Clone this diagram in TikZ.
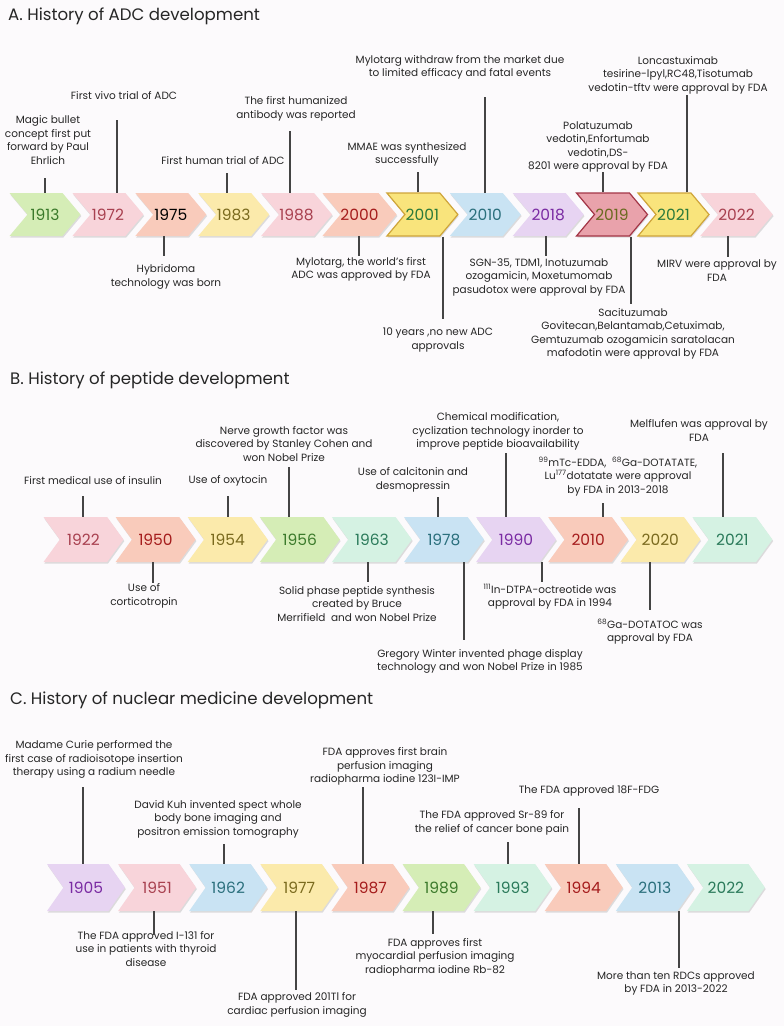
\documentclass[tikz,border=0pt]{standalone}
\usepackage{fontspec}
\setmainfont{Poppins}
\usetikzlibrary{shapes.symbols,shadows}
\definecolor{bg}{HTML}{FCFAFC}
\definecolor{txt}{HTML}{262626}
\definecolor{lnc}{HTML}{444444}
\definecolor{fGreen}{HTML}{D5EDB6}\definecolor{tGreen}{HTML}{3B7A2B}
\definecolor{fPink}{HTML}{F8D4DA}\definecolor{tPink}{HTML}{A8404F}
\definecolor{fSalmon}{HTML}{F9CBBB}\definecolor{tRed}{HTML}{A51C1C}
\definecolor{fYellow}{HTML}{FBEAAB}\definecolor{tOlive}{HTML}{7A6A1E}
\definecolor{fYellowHL}{HTML}{F9E47C}\definecolor{oYellow}{HTML}{CFA53A}\definecolor{tGreenHL}{HTML}{2B7A3A}
\definecolor{fBlue}{HTML}{C9E3F3}\definecolor{tTeal}{HTML}{2A6F7C}
\definecolor{fLav}{HTML}{E7D4F2}\definecolor{tPurple}{HTML}{7A2BA3}
\definecolor{fRose}{HTML}{E9A2AB}\definecolor{oRose}{HTML}{A33546}\definecolor{tRoseTxt}{HTML}{6A6A20}
\definecolor{fMint}{HTML}{D5F2E3}\definecolor{tMint}{HTML}{2A7A5A}
\tikzset{
 chev/.style={shape=signal, signal from=west, signal to=east, inner sep=0pt,
   font=\fontsize{15.5}{15.5}\selectfont,
   drop shadow={shadow xshift=0.8pt, shadow yshift=-1.6pt, opacity=0.25}},
 chevA/.style={chev, minimum width=71pt, minimum height=43pt, signal pointer angle=100},
 chevB/.style={chev, minimum width=80pt, minimum height=45pt, signal pointer angle=108},
 chevC/.style={chev, minimum width=78pt, minimum height=47pt, signal pointer angle=110},
 lbl/.style={align=center, font=\fontsize{10.5}{13.5}\selectfont, inner sep=0pt, text=txt},
 ttl/.style={anchor=west, font=\fontsize{16.6}{16.6}\selectfont, inner sep=0pt, text=txt},
 ln/.style={draw=lnc, line width=1.1pt},
 hlY/.style={draw=oYellow, line width=1.2pt},
 hlR/.style={draw=oRose, line width=1.2pt}
}
\begin{document}
\begin{tikzpicture}[x=1pt,y=-1pt]
\fill[bg] (0,0) rectangle (784,1026);
\useasboundingbox (0,0) rectangle (784,1026);

% ---------------- A ----------------
\node[ttl] (tA) at (8,16) {A. History of ADC development};
\node[chevA, fill=fGreen, text=tGreen] (a1913) at (45,214.5) {1913};
\node[chevA, fill=fPink, text=tPink] (a1972) at (107.9,214.5) {1972};
\node[chevA, fill=fSalmon, text=black] (a1975) at (170.8,214.5) {1975};
\node[chevA, fill=fYellow, text=tOlive] (a1983) at (233.7,214.5) {1983};
\node[chevA, fill=fPink, text=tPink] (a1988) at (296.6,214.5) {1988};
\node[chevA, fill=fSalmon, text=tRed] (a2000) at (359.5,214.5) {2000};
\node[chevA, hlY, fill=fYellowHL, text=tGreenHL] (a2001) at (422.4,214.5) {2001};
\node[chevA, fill=fBlue, text=tTeal] (a2010) at (485.3,214.5) {2010};
\node[chevA, fill=fLav, text=tPurple] (a2018) at (548.2,214.5) {2018};
\node[chevA, hlR, fill=fRose, text=tRoseTxt] (a2019) at (612,214.5) {2019};
\node[chevA, hlY, fill=fYellowHL, text=tGreenHL] (a2021) at (673.5,214.5) {2021};
\node[chevA, fill=fPink, text=tPink] (a2022) at (736.5,214.5) {2022};

\node[lbl] (la1913) at (48,140) {Magic bullet\\concept first put\\forward by Paul\\Ehrlich};
\node[lbl] (la1972) at (124,96) {First vivo trial of ADC};
\node[lbl] (la1983) at (223,161) {First human trial of ADC};
\node[lbl] (la1988) at (296,109) {The first humanized\\antibody was reported};
\node[lbl] (la2001) at (407,154.5) {MMAE was synthesized\\successfully};
\node[lbl] (la2010) at (460,67.5) {Mylotarg withdraw from the market due\\to limited efficacy and fatal events};
\node[lbl] (la2019) at (598,147) {Polatuzumab\\vedotin,Enfortumab\\vedotin,DS-\\8201 were approval by FDA};
\node[lbl] (la2021) at (678,75) {Loncastuximab\\tesirine-lpyl,RC48,Tisotumab\\vedotin-tftv were approval by FDA};

\draw[ln] (a1913.north) -- ++(0,-15);
\draw[ln] ([xshift=9.1pt]a1972.north) -- ++(0,-73);
\draw[ln] ([xshift=-6.7pt]a1983.north) -- ++(0,-20);
\draw[ln] ([xshift=-6.6pt]a1988.north) -- ++(0,-62);
\draw[ln] ([xshift=-4.4pt]a2001.north) -- ++(0,-20);
\draw[ln] ([xshift=-0.3pt]a2010.north) -- ++(0,-96);
\draw[ln] ([xshift=-9pt]a2019.north) -- ++(0,-20);
\draw[ln] ([xshift=13.5pt]a2021.north) -- ++(0,-97);

\node[lbl] (lb1975) at (166,277) {Hybridoma\\technology was born};
\node[lbl] (lb2000) at (361,269.5) {Mylotarg, the world's first\\ADC was approved by FDA};
\node[lbl] (lb2001) at (438,340) {10 years ,no new ADC\\approvals};
\node[lbl] (lb2018) at (539,277) {SGN-35, TDM1, Inotuzumab\\ozogamicin, Moxetumomab\\pasudotox were approval by FDA};
\node[lbl] (lb2019) at (633,334) {Sacituzumab\\Govitecan,Belantamab,Cetuximab,\\Gemtuzumab ozogamicin saratolacan\\mafodotin were approval by FDA};
\node[lbl] (lb2022) at (717,270.5) {MIRV were approval by\\FDA};

\draw[ln] ([xshift=-6.8pt]a1975.south) -- ++(0,20);
\draw[ln] ([xshift=-0.5pt]a2000.south) -- ++(0,20);
\draw[ln] ([xshift=20.6pt]a2001.south) -- ++(0,82);
\draw[ln] ([xshift=-2.2pt]a2018.south) -- ++(0,20);
\draw[ln] ([xshift=19pt]a2019.south) -- ++(0,67);
\draw[ln] ([xshift=-8.5pt]a2022.south) -- ++(0,21);

% ---------------- B ----------------
\node[ttl] (tB) at (10,380) {B. History of peptide development};
\node[chevB, fill=fPink, text=tPink] (b1922) at (83.5,539.5) {1922};
\node[chevB, fill=fSalmon, text=tRed] (b1950) at (155.6,539.5) {1950};
\node[chevB, fill=fYellow, text=tOlive] (b1954) at (227.7,539.5) {1954};
\node[chevB, fill=fGreen, text=tGreen] (b1956) at (299.8,539.5) {1956};
\node[chevB, fill=fMint, text=tMint] (b1963) at (371.9,539.5) {1963};
\node[chevB, fill=fBlue, text=tTeal] (b1978) at (444,539.5) {1978};
\node[chevB, fill=fLav, text=tPurple] (b1990) at (516.1,539.5) {1990};
\node[chevB, fill=fSalmon, text=tRed] (b2010) at (588.2,539.5) {2010};
\node[chevB, fill=fYellow, text=tOlive] (b2020) at (660.3,539.5) {2020};
\node[chevB, fill=fMint, text=tMint] (b2021) at (732.4,539.5) {2021};

\node[lbl] (lc1922) at (93,481) {First medical use of insulin};
\node[lbl] (lc1954) at (228,481) {Use of oxytocin};
\node[lbl] (lc1956) at (284,444) {Nerve growth factor was\\discovered by Stanley Cohen and\\won Nobel Prize};
\node[lbl] (lc1978) at (413,480) {Use of calcitonin and\\desmopressin};
\node[lbl] (lc1990) at (498,431.7) {Chemical modification,\\cyclization technology inorder to\\improve peptide bioavailability};
\node[lbl] (lc2010) at (618,476.3) {\textsuperscript{99}mTc-EDDA,\ \ \textsuperscript{68}Ga-DOTATATE,\\Lu\textsuperscript{177}dotatate were approval\\by FDA in 2013-2018};
\node[lbl] (lc2021) at (699,430.5) {Melflufen was approval by\\FDA};

\draw[ln] ([xshift=-0.5pt]b1922.north) -- ++(0,-21);
\draw[ln] ([xshift=0.3pt]b1954.north) -- ++(0,-21);
\draw[ln] ([xshift=-10.8pt]b1956.north) -- ++(0,-50);
\draw[ln] ([xshift=-6pt]b1978.north) -- ++(0,-20);
\draw[ln] ([xshift=-10.1pt]b1990.north) -- ++(0,-64);
\draw[ln] ([xshift=14.8pt]b2010.north) -- ++(0,-14);
\draw[ln] ([xshift=-9.4pt]b2021.north) -- ++(0,-64);

\node[lbl] (ld1950) at (144,596) {Use of\\corticotropin};
\node[lbl] (ld1963) at (357,603.7) {Solid phase peptide synthesis\\created by Bruce\\Merrifield\ \ and won Nobel Prize};
\node[lbl] (ld1978) at (480,661.5) {Gregory Winter invented phage display\\technology and won Nobel Prize in 1985};
\node[lbl] (ld1990) at (550,596.5) {\textsuperscript{111}In-DTPA-octreotide was\\approval by FDA in 1994};
\node[lbl] (ld2020) at (650,631.5) {\textsuperscript{68}Ga-DOTATOC was\\approval by FDA};

\draw[ln] ([xshift=-2.6pt]b1950.south) -- ++(0,21);
\draw[ln] ([xshift=-3.9pt]b1963.south) -- ++(0,20);
\draw[ln] ([xshift=20pt]b1978.south) -- ++(0,78);
\draw[ln] ([xshift=25.9pt]b1990.south) -- ++(0,20);
\draw[ln] ([xshift=-10.3pt]b2020.south) -- ++(0,48);

% ---------------- C ----------------
\node[ttl] (tC) at (10,700) {C. History of nuclear medicine development};
\node[chevC, fill=fLav, text=tPurple] (c1905) at (86,887.5) {1905};
\node[chevC, fill=fPink, text=tPink] (c1951) at (157.1,887.5) {1951};
\node[chevC, fill=fBlue, text=tTeal] (c1962) at (228.2,887.5) {1962};
\node[chevC, fill=fYellow, text=tOlive] (c1977) at (299.3,887.5) {1977};
\node[chevC, fill=fSalmon, text=tRed] (c1987) at (370.4,887.5) {1987};
\node[chevC, fill=fGreen, text=tGreen] (c1989) at (441.5,887.5) {1989};
\node[chevC, fill=fMint, text=tMint] (c1993) at (512.6,887.5) {1993};
\node[chevC, fill=fSalmon, text=tRed] (c1994) at (583.7,887.5) {1994};
\node[chevC, fill=fBlue, text=tTeal] (c2013) at (654.8,887.5) {2013};
\node[chevC, fill=fMint, text=tMint] (c2022) at (725.9,887.5) {2022};

\node[lbl] (le1905) at (94,759.7) {Madame Curie performed the\\first case of radioisotope insertion\\therapy using a radium needle};
\node[lbl] (le1962) at (218,819) {David Kuh invented spect whole\\body bone imaging and\\positron emission tomography};
\node[lbl] (le1987) at (385,766.7) {FDA approves first brain\\perfusion imaging\\radiopharma iodine 123I-IMP};
\node[lbl] (le1993) at (492,823) {The FDA approved Sr-89 for\\the relief of cancer bone pain};
\node[lbl] (le1994) at (589,791) {The FDA approved 18F-FDG};

\draw[ln] ([xshift=-3pt]c1905.north) -- ++(0,-77);
\draw[ln] ([xshift=-4.2pt]c1962.north) -- ++(0,-20);
\draw[ln] ([xshift=-7.4pt]c1987.north) -- ++(0,-77);
\draw[ln] ([xshift=-4.6pt]c1993.north) -- ++(0,-22);
\draw[ln] ([xshift=-4.7pt]c1994.north) -- ++(0,-56);

\node[lbl] (lf1951) at (146,949) {The FDA approved I-131 for\\use in patients with thyroid\\disease};
\node[lbl] (lf1977) at (297,1005) {FDA approved 201Tl for\\cardiac perfusion imaging};
\node[lbl] (lf1989) at (435,957) {FDA approves first\\myocardial perfusion imaging\\radiopharma iodine Rb-82};
\node[lbl] (lf2013) at (676,983.5) {More than ten RDCs approved\\by FDA in 2013-2022};

\draw[ln] ([xshift=-3.1pt]c1951.south) -- ++(0,24);
\draw[ln] ([xshift=-3.3pt]c1977.south) -- ++(0,79);
\draw[ln] ([xshift=-8.5pt]c1989.south) -- ++(0,23);
\draw[ln] ([xshift=24.2pt]c2013.south) -- ++(0,57);
\end{tikzpicture}
\end{document}
